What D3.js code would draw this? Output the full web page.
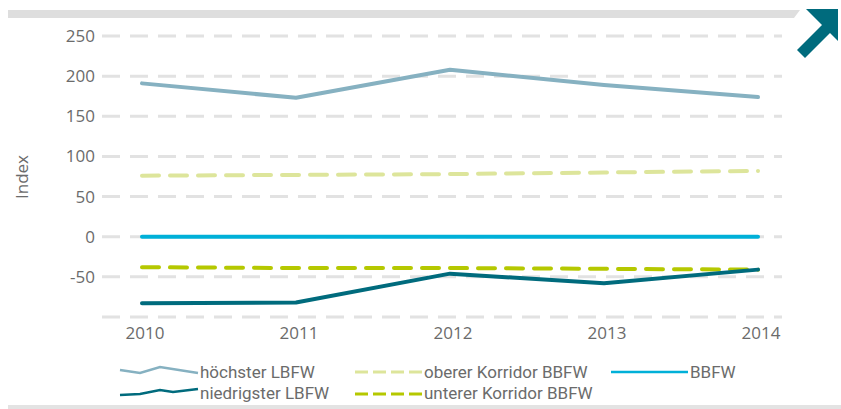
<!DOCTYPE html>
<html>
<head>
<meta charset="utf-8">
<script src="https://cdn.jsdelivr.net/npm/d3@7"></script>
<style>
  body { margin: 0; background: #fff; }
  text { font-family: "Open Sans", sans-serif; fill: #6b6b6b; }
  .leg text { font-family: Roboto, sans-serif; }
</style>
</head>
<body>
<svg id="chart" width="841" height="409"></svg>
<script>
// data
var years = [2010, 2011, 2012, 2013, 2014];
var hoechster = [191, 173, 208, 189, 174];
var obererKorridor = [76, 77, 78, 80, 82];
var bbfw = [0, 0, 0, 0, 0];
var untererKorridor = [-38, -39, -39, -40, -41];
var niedrigster = [-83, -82, -46, -58, -41];
var yTicks = [-100, -50, 0, 50, 100, 150, 200, 250];

var series = [
  {name: "höchster LBFW", values: hoechster, color: "#86b1c1", dash: null},
  {name: "oberer Korridor BBFW", values: obererKorridor, color: "#dde59b", dash: "17,11"},
  {name: "BBFW", values: bbfw, color: "#00b0d8", dash: null},
  {name: "niedrigster LBFW", values: niedrigster, color: "#006b7d", dash: null},
  {name: "unterer Korridor BBFW", values: untererKorridor, color: "#b5c800", dash: "17,11"}
];

var svg = d3.select("#chart");

// header band + arrow
svg.append("path").attr("d", "M8,10 L800,10 L794,18 L8,18 Z").attr("fill", "#dedede");
svg.append("path")
  .attr("d", "M806,9 L838,9 L838,41 L830,33 L805,58 L797,50 L822,25 Z")
  .attr("fill", "#006b7d");
svg.append("rect").attr("x", 8).attr("y", 405).attr("width", 833).attr("height", 4).attr("fill", "#e3e3e3");

var x = d3.scaleLinear().domain([2010, 2014]).range([142, 758]);
var y = d3.scaleLinear().domain([-100, 250]).range([317, 36]);

// grid
svg.append("g").selectAll("line").data(yTicks).join("line")
  .attr("x1", 102).attr("x2", 782)
  .attr("y1", d => y(d)).attr("y2", d => y(d))
  .attr("stroke", "#e2e2e2").attr("stroke-width", 3)
  .attr("stroke-dasharray", "18,10");

// y labels (-100 has none)
svg.append("g").selectAll("text").data(yTicks.filter(d => d > -100)).join("text")
  .attr("x", 95).attr("y", d => y(d) + 6)
  .attr("text-anchor", "end").attr("font-size", 17)
  .text(d => d);

svg.append("g").selectAll("text").data(years).join("text")
  .attr("x", d => x(d) + 3).attr("y", 339)
  .attr("text-anchor", "middle").attr("font-size", 17)
  .text(d => d);

svg.append("text")
  .attr("transform", "translate(28,177) rotate(-90)")
  .attr("text-anchor", "middle").attr("font-size", 17)
  .text("Index");

var line = d3.line().x((d, i) => x(years[i])).y(d => y(d));

// draw order: light lines first, dark lines on top
[1, 4, 0, 2, 3].forEach(function(k) {
  var s = series[k];
  svg.append("path")
    .attr("d", line(s.values))
    .attr("fill", "none")
    .attr("stroke", s.color)
    .attr("stroke-width", 4)
    .attr("stroke-linecap", "round")
    .attr("stroke-linejoin", "round")
    .attr("stroke-dasharray", s.dash);
});

// legend symbols (small zigzag for the LBFW lines)
var legSym = [
  [[120, 370], [140, 373], [160, 367], [198, 373]],
  [[355, 372], [422, 372]],
  [[611, 372], [688, 372]],
  [[120, 395], [140, 394], [160, 390], [173, 392], [198, 389]],
  [[355, 394], [422, 394]]
];
var leg = svg.append("g").attr("class", "leg");
series.forEach(function(s, i) {
  var pts = legSym[i];
  leg.append("path")
    .attr("d", d3.line()(pts))
    .attr("fill", "none").attr("stroke", s.color)
    .attr("stroke-width", s.dash ? 3 : 2.5)
    .attr("stroke-dasharray", s.dash ? "13,5" : null);
  leg.append("text")
    .attr("x", pts[pts.length - 1][0] + 2)
    .attr("y", (i < 3 ? 372 : 393) + 6)
    .attr("font-size", 17)
    .text(s.name);
});
</script>
</body>
</html>
